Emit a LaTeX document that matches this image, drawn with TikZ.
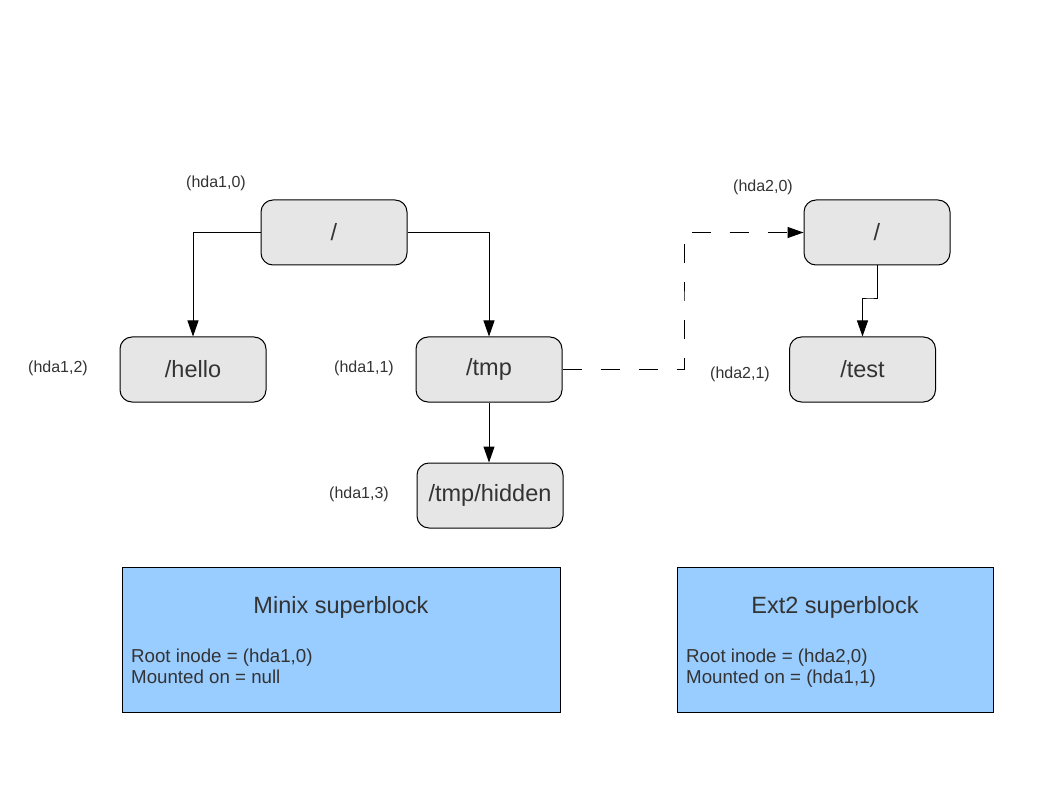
\documentclass[tikz,border=0pt]{standalone}
\usepackage{fontspec}
\setmainfont{Liberation Sans}
\usetikzlibrary{arrows.meta}

\definecolor{inodegray}{HTML}{E6E6E6}
\definecolor{sbblue}{HTML}{99CCFF}
\definecolor{txtgray}{HTML}{333333}

\tikzset{
	inode/.style={draw=black, line width=1pt, fill=inodegray, rounded corners=12pt,
		minimum width=146pt, minimum height=65pt, inner sep=0pt, text=txtgray,
		font=\fontsize{23.5}{28}\selectfont},
	inodelabel/.style={text=txtgray, inner sep=0pt, font=\fontsize{16}{19}\selectfont},
	superblk/.style={draw=black, line width=1pt, fill=sbblue, inner sep=0pt},
	link/.style={black, line width=1pt, -{Triangle[length=16pt,width=11pt]}},
}

\begin{document}
\begin{tikzpicture}[x=1pt, y=-1pt]
		
		\useasboundingbox (0,0) rectangle (1058,794);
		
		% Minix tree
		\node[inode] (root1) at (334,232.5) {/};
		\node[inode] (hello) at (193,369.5) {/hello};
		\node[inode] (tmp) at (489,369.5) {/tmp};
		\node[inode] (hidden) at (490,495.5) {/tmp/hidden};
		\node[inodelabel] (lroot1) at (216,183) {(hda1,0)};
		\node[inodelabel] (lhello) at (58,368) {(hda1,2)};
		\node[inodelabel] (ltmp) at (364,368) {(hda1,1)};
		\node[inodelabel] (lhidden) at (359,494) {(hda1,3)};
		
		% Ext2 tree
		\node[inode] (root2) at (877,232.5) {/};
		\node[inode] (test) at (862.5,369.5) {/test};
		\node[inodelabel] (lroot2) at (763,187) {(hda2,0)};
		\node[inodelabel] (ltest) at (740,374) {(hda2,1)};
		
		\coordinate (split) at (870,299);
		\coordinate (mountx) at (684,300);
		
		\draw[link] (root1.west) -| (hello.north);
		\draw[link] (root1.east) -| (tmp.north);
		\draw[link] (tmp.south) -- (tmp.south |- hidden.north);
		\draw[link] (root2.south) |- (split) -| (test.north);
		% mount point
		\draw[link, dash pattern=on 19pt off 19pt] (tmp.east) -| (mountx) |- (root2.west);
		
		% superblocks
		\node[superblk, minimum width=438pt, minimum height=145pt] (minix) at (341,639.5) {};
		\node[text=txtgray, anchor=base, font=\fontsize{23.5}{28}\selectfont] (minixtitle) at (341,613.5) {Minix superblock};
		\node[text=txtgray, anchor=base west, align=left, inner sep=0pt, font=\fontsize{18.7}{21}\selectfont] (minixbody) at (131,683) {Root inode = (hda1,0)\\Mounted on = null};
		
		\node[superblk, minimum width=316pt, minimum height=145pt] (ext2) at (835,639.5) {};
		\node[text=txtgray, anchor=base, font=\fontsize{23.5}{28}\selectfont] (ext2title) at (835,613.5) {Ext2 superblock};
		\node[text=txtgray, anchor=base west, align=left, inner sep=0pt, font=\fontsize{18.7}{21}\selectfont] (ext2body) at (686,683) {Root inode = (hda2,0)\\Mounted on = (hda1,1)};
		
	\end{tikzpicture}
\end{document}
